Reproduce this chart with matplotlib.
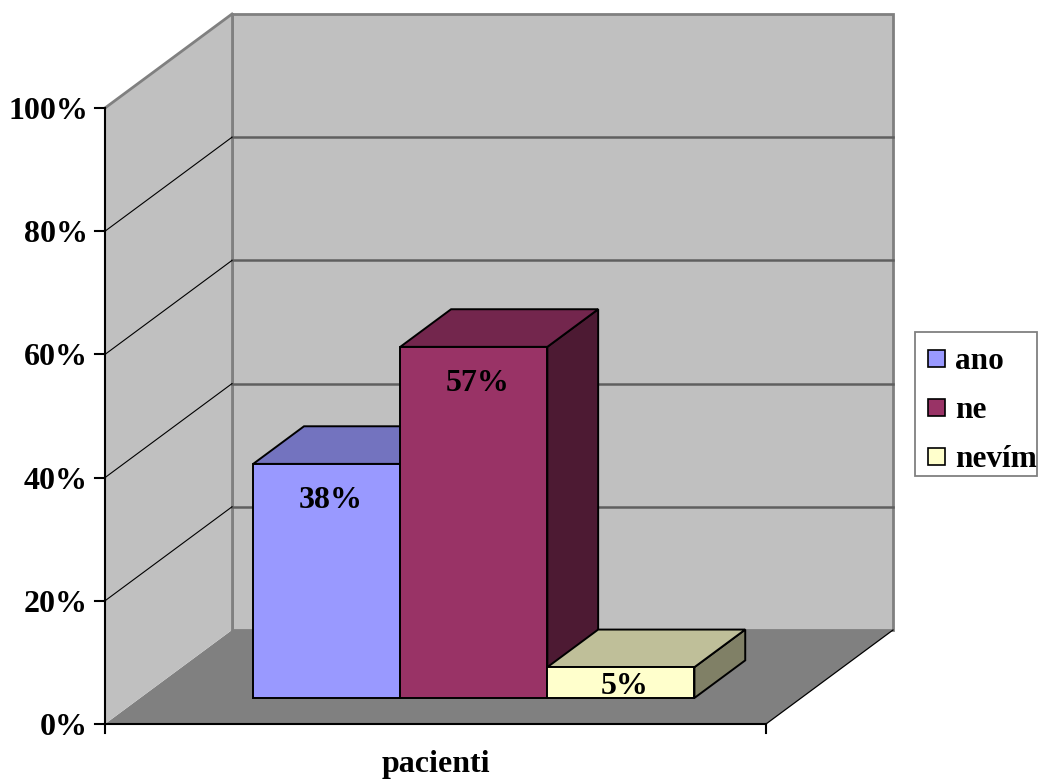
import matplotlib
matplotlib.use("Agg")
import matplotlib.pyplot as plt
from matplotlib.patches import Polygon, Rectangle
from matplotlib.colors import to_rgb

# ---- data -------------------------------------------------------------
category = "pacienti"
series = ["ano", "ne", "nevím"]
values = [38, 57, 5]
value_labels = ["38%", "57%", "5%"]
y_ticks = [0, 20, 40, 60, 80, 100]
y_tick_labels = ["0%", "20%", "40%", "60%", "80%", "100%"]
front_colors = ["#9999FF", "#993366", "#FFFFCC"]

FONT = dict(family="Liberation Serif", weight="bold")


def shade(color, f):
    r, g, b = to_rgb(color)
    return (r * f, g * f, b * f)


# ---- oblique projection of the 3-D box onto the page -------------------
X0, Y0 = 105, 724        # front-left corner of the floor
WIDTH = 661              # length of the category axis
PER_PCT = 6.16           # height of one percent
DX, DY = 127, -94        # depth vector (front -> back wall)


def P(u, v, d):
    """u: position along the category band (0..1), v: value in %, d: depth (0..1)."""
    return (X0 + u * WIDTH + d * DX, Y0 - v * PER_PCT + d * DY)


fig = plt.figure(figsize=(10.4, 7.83), dpi=100)
ax = fig.add_axes([0, 0, 1, 1])
ax.set_xlim(0, 1040)
ax.set_ylim(783, 0)
ax.axis("off")

vmax = y_ticks[-1]

# walls and floor
floor = [P(0, 0, 0), P(1, 0, 0), P(1, 0, 1), P(0, 0, 1)]
ax.add_patch(Polygon(floor, closed=True, facecolor="#808080", edgecolor="none", zorder=1))
back = [P(0, 0, 1), P(1, 0, 1), P(1, vmax, 1), P(0, vmax, 1)]
ax.add_patch(Polygon(back, closed=True, facecolor="#C0C0C0", edgecolor="#808080",
                     linewidth=2, zorder=1))
left = [P(0, 0, 0), P(0, 0, 1), P(0, vmax, 1), P(0, vmax, 0)]
ax.add_patch(Polygon(left, closed=True, facecolor="#C0C0C0", edgecolor="none", zorder=1))
ax.plot(*zip(P(0, vmax, 0), P(0, vmax, 1)), color="#808080", lw=2, zorder=2)
ax.plot(*zip(P(0, 0, 1), P(0, vmax, 1)), color="#808080", lw=2, zorder=2)

# gridlines
for t in y_ticks[1:-1]:
    ax.plot(*zip(P(0, t, 1), P(1, t, 1)), color="#5F5F5F", lw=1.8, zorder=2)
    ax.plot(*zip(P(0, t, 0), P(0, t, 1)), color="black", lw=0.8, zorder=2)

# floor outline
ax.plot(*zip(P(0, 0, 0), P(1, 0, 0)), color="black", lw=1.5, zorder=3)
ax.plot(*zip(P(1, 0, 0), P(1, 0, 1)), color="black", lw=0.9, zorder=3)

# value axis with ticks
ax.plot(*zip(P(0, vmax, 0), P(0, 0, 0)), color="black", lw=1.5, zorder=3)
for t, lab in zip(y_ticks, y_tick_labels):
    x, y = P(0, t, 0)
    ax.plot([x - 10, x], [y, y], color="black", lw=1.5, zorder=3)
    ax.text(x - 17, y, lab, ha="right", va="center_baseline", fontsize=23,
            color="black", **FONT)

# category axis ticks and label
for u in (0, 1):
    x, y = P(u, 0, 0)
    ax.plot([x, x], [y, y + 9], color="black", lw=1.5, zorder=3)
xc, yc = P(0.5, 0, 0)
ax.text(xc, yc + 48, category, ha="center", va="baseline", fontsize=23, **FONT)

# bars
D0, D1 = 0.277, 0.677
U0, BW = 0.171, 0.2225
for i, (v, lab, col) in enumerate(zip(values, value_labels, front_colors)):
    u0, u1 = U0 + i * BW, U0 + (i + 1) * BW
    side = [P(u1, 0, D0), P(u1, 0, D1), P(u1, v, D1), P(u1, v, D0)]
    top = [P(u0, v, D0), P(u1, v, D0), P(u1, v, D1), P(u0, v, D1)]
    front = [P(u0, 0, D0), P(u1, 0, D0), P(u1, v, D0), P(u0, v, D0)]
    for poly, c in ((side, shade(col, 0.5)), (top, shade(col, 0.75)), (front, col)):
        ax.add_patch(Polygon(poly, closed=True, facecolor=c, edgecolor="black",
                             linewidth=1.4, joinstyle="miter", zorder=4 + i))
    xt, ytop = P((u0 + u1) / 2, v, D0)
    _, ybot = P(u0, 0, D0)
    ax.text(xt + 4, min(ytop + 44, ybot - 4), lab, ha="center", va="baseline",
            fontsize=23, zorder=10, **FONT)

# legend box
LX0, LY0, LX1, LY1 = 915, 332, 1037, 476
ax.add_patch(Rectangle((LX0, LY0), LX1 - LX0, LY1 - LY0, facecolor="white",
                       edgecolor="#808080", linewidth=1.3, zorder=20))
ROW0, ROW_STEP, SQ = 358, 49, 17
for i, (name, col) in enumerate(zip(series, front_colors)):
    yc_row = ROW0 + i * ROW_STEP
    ax.add_patch(Rectangle((928, yc_row - SQ / 2), SQ, SQ, facecolor=col,
                           edgecolor="black", linewidth=1.2, zorder=21))
    ax.text(955, yc_row, name, ha="left", va="center_baseline", fontsize=22.5,
            zorder=21, **FONT)

fig.savefig("out.png", dpi=100)
